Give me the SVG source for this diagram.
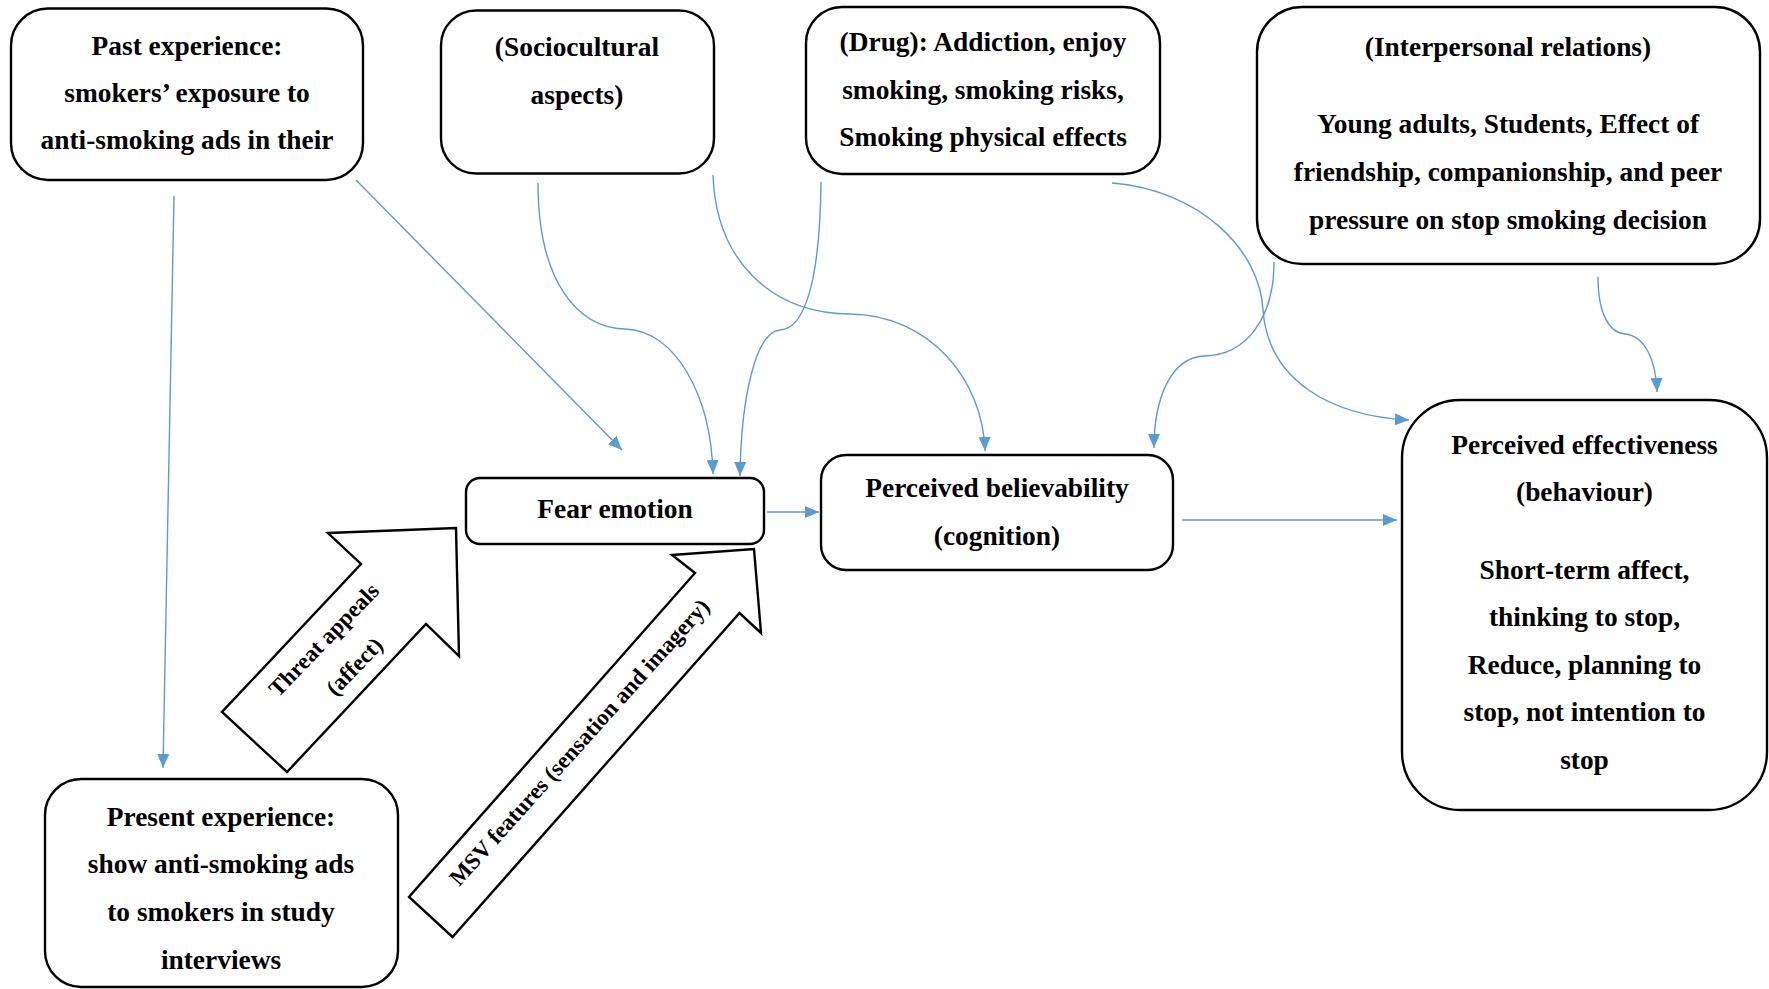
<svg xmlns="http://www.w3.org/2000/svg" width="1769" height="989" viewBox="0 0 1769 989">
  <defs>
    <style>
      .box { fill: #ffffff; stroke: #000000; stroke-width: 2.4; }
      .blk { fill: #ffffff; stroke: #000000; stroke-width: 2.4; stroke-linejoin: miter; }
      .lbl { font-family: "Liberation Serif", "Times New Roman", serif; font-weight: bold; font-size: 27.4px; fill: #000000; text-anchor: middle; }
      .alb { font-family: "Liberation Serif", "Times New Roman", serif; font-weight: bold; font-size: 23px; fill: #000000; text-anchor: middle; }
      .con { fill: none; stroke: #5B9BD5; stroke-width: 1.4; marker-end: url(#tip); }
    </style>
    <marker id="tip" markerUnits="userSpaceOnUse" markerWidth="14" markerHeight="12" refX="14" refY="6" orient="auto">
      <path d="M0,0 L14,6 L0,12 Z" fill="#5B9BD5"/>
    </marker>
  </defs>

  <rect width="1769" height="989" fill="#ffffff"/>

  <!-- connectors -->
  <g id="connectors">
    <path class="con" d="M174,196 L163,768"/>
    <path class="con" d="M356,180 L622,450"/>
    <path class="con" d="M538,183 C538,285 580,328 625,329 C675,330 711,395 713,474"/>
    <path class="con" d="M821,182 C820,280 805,329 780,330 C755,332 741,400 740,476"/>
    <path class="con" d="M713,175 C716,260 770,313 850,314 C930,315 983,380 985,451"/>
    <path class="con" d="M1112,183 C1200,190 1260,250 1263,310 C1268,380 1330,416 1409,420"/>
    <path class="con" d="M1274,262 C1274,320 1245,355 1205,356 C1170,357 1154,400 1154,448"/>
    <path class="con" d="M1598,277 C1598,315 1610,333 1625,334 C1645,336 1656,360 1657,392"/>
    <path class="con" d="M767,512 L819,512"/>
    <path class="con" d="M1182,520 L1397,520"/>
  </g>

  <!-- block arrows -->
  <g id="threat-appeals">
    <polygon class="blk" points="328,533 456,528 459,656 426,624 287,772 222,712 361,564"/>
    <g transform="translate(339,653) rotate(-46)">
      <text class="alb" x="-1" y="-12.5">Threat appeals</text>
      <text class="alb" x="1" y="28">(affect)</text>
    </g>
  </g>

  <g id="msv-features">
    <polygon class="blk" points="672,555 754,549 761,633 739.5,613 452.5,937 409,897 695,573"/>
    <g transform="translate(579,742) rotate(-48)">
      <text class="alb" x="0" y="8">MSV features (sensation and imagery)</text>
    </g>
  </g>

  <!-- nodes -->
  <g id="past-experience">
    <rect class="box" x="11" y="8.5" width="352" height="171.5" rx="37" ry="37"/>
    <text class="lbl" x="187" y="54.5">Past experience:</text>
    <text class="lbl" x="187" y="101.5">smokers’ exposure to</text>
    <text class="lbl" x="187" y="148.5">anti-smoking ads in their</text>
  </g>

  <g id="sociocultural">
    <rect class="box" x="441" y="10.5" width="273" height="163" rx="35" ry="35"/>
    <text class="lbl" x="577" y="55.5">(Sociocultural</text>
    <text class="lbl" x="577" y="103.5">aspects)</text>
  </g>

  <g id="drug">
    <rect class="box" x="806" y="7" width="354" height="167" rx="36" ry="36"/>
    <text class="lbl" x="983" y="51">(Drug): Addiction, enjoy</text>
    <text class="lbl" x="983" y="99">smoking, smoking risks,</text>
    <text class="lbl" x="983" y="146">Smoking physical effects</text>
  </g>

  <g id="interpersonal">
    <rect class="box" x="1257" y="7" width="503" height="257" rx="45" ry="45"/>
    <text class="lbl" x="1508" y="56">(Interpersonal relations)</text>
    <text class="lbl" x="1508" y="133">Young adults, Students, Effect of</text>
    <text class="lbl" x="1508" y="181">friendship, companionship, and peer</text>
    <text class="lbl" x="1508" y="229">pressure on stop smoking decision</text>
  </g>

  <g id="fear-emotion">
    <rect class="box" x="466" y="478" width="298" height="66" rx="14" ry="14"/>
    <text class="lbl" x="615" y="518">Fear emotion</text>
  </g>

  <g id="perceived-believability">
    <rect class="box" x="821" y="455" width="352" height="115" rx="25" ry="25"/>
    <text class="lbl" x="997" y="497">Perceived believability</text>
    <text class="lbl" x="997" y="545">(cognition)</text>
  </g>

  <g id="perceived-effectiveness">
    <rect class="box" x="1402" y="400" width="365" height="410" rx="58" ry="58"/>
    <text class="lbl" x="1584.5" y="454">Perceived effectiveness</text>
    <text class="lbl" x="1584.5" y="501">(behaviour)</text>
    <text class="lbl" x="1584.5" y="579">Short-term affect,</text>
    <text class="lbl" x="1584.5" y="626">thinking to stop,</text>
    <text class="lbl" x="1584.5" y="674">Reduce, planning to</text>
    <text class="lbl" x="1584.5" y="721">stop, not intention to</text>
    <text class="lbl" x="1584.5" y="769">stop</text>
  </g>

  <g id="present-experience">
    <rect class="box" x="45" y="779" width="353" height="208" rx="36" ry="36"/>
    <text class="lbl" x="221" y="826">Present experience:</text>
    <text class="lbl" x="221" y="873">show anti-smoking ads</text>
    <text class="lbl" x="221" y="921">to smokers in study</text>
    <text class="lbl" x="221" y="969">interviews</text>
  </g>
</svg>
